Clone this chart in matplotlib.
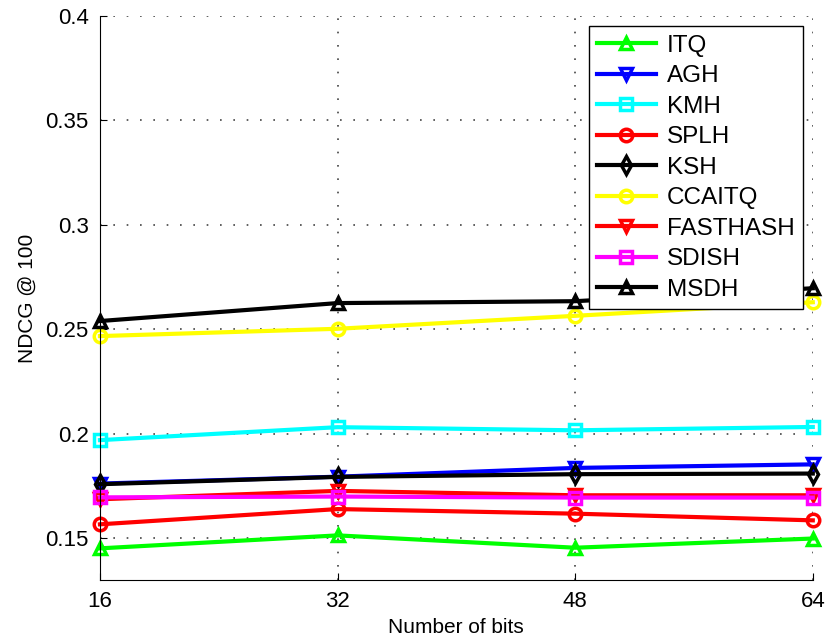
import matplotlib.pyplot as plt

plt.rcParams['font.family'] = ['Liberation Sans', 'DejaVu Sans']

bits = [16, 32, 48, 64]

itq = [0.1452, 0.1514, 0.1455, 0.1499]
agh = [0.1762, 0.1795, 0.1837, 0.1854]
kmh = [0.1970, 0.2032, 0.2017, 0.2033]
splh = [0.1567, 0.1640, 0.1618, 0.1586]
ksh = [0.1759, 0.1794, 0.1807, 0.1810]
ccaitq = [0.2468, 0.2503, 0.2565, 0.2630]
fasthash = [0.1687, 0.1727, 0.1706, 0.1706]
sdish = [0.1696, 0.1700, 0.1695, 0.1695]
msdh = [0.2540, 0.2626, 0.2635, 0.2697]

methods = ['ITQ', 'AGH', 'KMH', 'SPLH', 'KSH', 'CCAITQ', 'FASTHASH', 'SDISH', 'MSDH']
series = [itq, agh, kmh, splh, ksh, ccaitq, fasthash, sdish, msdh]
colors = ['#00ff00', '#0000ff', '#00ffff', '#ff0000', 'k', '#ffff00', '#ff0000', '#ff00ff', 'k']
markers = ['^', 'v', 's', 'o', 'd', 'o', 'v', 's', '^']

fig = plt.figure(figsize=(8.26, 6.41), dpi=100)
ax = fig.add_axes([0.121, 0.095, 0.863, 0.88])

for name, vals, c, m in zip(methods, series, colors, markers):
    ax.plot(bits, vals, color=c, marker=m, markersize=9, markerfacecolor='none',
            markeredgewidth=2.5, linewidth=3, label=name, clip_on=False)

ax.set_xlim(16, 64)
ax.set_ylim(0.13, 0.4)
ax.set_xticks(bits)
ax.set_yticks([0.15, 0.2, 0.25, 0.3, 0.35, 0.4])
ax.set_yticklabels(['0.15', '0.2', '0.25', '0.3', '0.35', '0.4'])
ax.grid(True, linestyle=(0, (1, 7)), color='#444444', linewidth=1.2)
ax.tick_params(direction='in', labelsize=16, length=5, pad=8)
ax.spines['top'].set_visible(False)
ax.spines['right'].set_visible(False)
ax.set_xlabel('Number of bits', fontsize=15, labelpad=4)
ax.set_ylabel('NDCG @ 100', fontsize=15, labelpad=6)

leg = ax.legend(loc='upper right', bbox_to_anchor=(0.986, 0.982), fontsize=17.5,
                handlelength=2.4, labelspacing=0.35, borderpad=0.35,
                handletextpad=0.45, borderaxespad=0, fancybox=False, framealpha=1)
leg.get_frame().set_edgecolor('k')
leg.get_frame().set_linewidth(1)

fig.savefig('out.png', dpi=100)
